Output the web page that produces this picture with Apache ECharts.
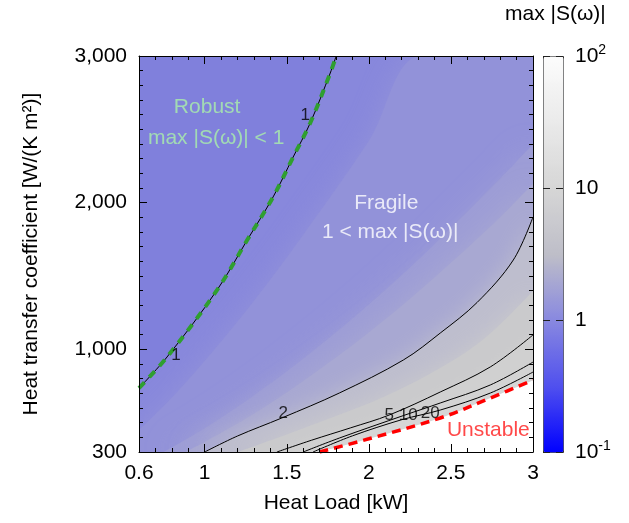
<!DOCTYPE html>
<html><head><meta charset="utf-8">
<script src="https://cdn.jsdelivr.net/npm/echarts@6/dist/echarts.min.js"></script>
<style>html,body{margin:0;padding:0;background:#fff}#c{width:629px;height:523px}</style>
</head><body><div id="c"></div>
<script>
// ---- axis ticks ----
const xTickLabels = [0.6, 1, 1.5, 2, 2.5, 3];
const xMajorTicks = [1, 1.5, 2, 2.5];
const yTickLabels = [300, 1000, 2000, 3000];
const yMajorTicks = [1000, 2000];
const cbTicks = [0.1, 1, 10, 100];

// ---- contour lines: [heat load kW, HTC W/(K m2)] ----
const contour1 = [[0.6,736],[0.771,948],[1.076,1405],[1.259,1745],[1.417,2039],[1.539,2311],[1.643,2543],[1.765,2884],[1.801,3000]];
const contour2 = [[1.0,300],[1.2,409],[1.47,532],[1.82,702],[2.21,927],[2.435,1111],[2.66,1320],[2.88,1609],[3.0,1902]];
const contour5 = [[1.44,300],[1.65,380],[1.887,464],[2.124,552],[2.435,709],[2.74,880],[3.0,1098]];
const contour10 = [[1.6,300],[1.82,395],[2.22,552],[2.435,634],[2.74,757],[3.0,913]];
const contour20 = [[1.66,300],[1.9,410],[2.2,520],[2.435,586],[2.74,702],[3.0,845]];
const unstableEdge = [[1.7,300],[2.0,390],[2.435,532],[2.74,668],[3.0,790]];
// estimated iso-lines (not drawn as lines) for the shading between labelled contours
const level125 = [[0.6,450],[0.8,670],[1.0,920],[1.3,1330],[1.6,1780],[2.0,2420],[2.32,3000]];
const level150 = [[0.75,300],[1.0,462],[1.3,685],[1.6,935],[2.0,1306],[2.4,1717],[2.8,2164],[3.0,2400]];
const level175 = [[0.88,300],[1.0,368],[1.3,560],[1.6,784],[2.0,1115],[2.4,1490],[2.8,1900],[3.0,2130]];
const level3 = [[1.2,300],[1.5,420],[1.8,545],[2.1,680],[2.4,850],[2.7,1070],[3.0,1400]];

// ---- text ----
const contourLabels = [[0.826,961,'1'],[1.612,2598,'1'],[1.478,566,'2'],[2.124,552,'5'],[2.24,552,'10'],[2.374,566,'20']];
const annotations = [[1.015,2652,'Robust','#aaf0aa'],[1.07,2441,'max |S(ω)| < 1','#aaf0aa'],[2.106,1998,'Fragile','#ffffff'],[2.13,1800,'1 < max |S(ω)|','#ffffff'],[2.728,450,'Unstable','#ff1a1a']];

// ---- styles ----
const FONT = 'Liberation Sans, Arial, Helvetica, sans-serif';
const X_MIN = 0.6, X_MAX = 3, Y_MIN = 300, Y_MAX = 3000;
const robustColor = 'rgb(128,128,220)';
const bandColors = ['rgb(136,136,220)','rgb(146,146,217)','rgb(157,157,214)','rgb(168,168,210)',
  'rgb(190,190,206)','rgb(202,202,204)','rgb(208,208,208)','rgb(211,211,211)','rgb(214,214,214)','#ffffff'];
const bandBlur = [0, 28, 28, 28, 22, 22, 10, 0, 0, 0];
const cmapColors = ['#0000ff','#5050ee','#8888e0','#bebec8','#d6d6d6','#eaeaea','#fcfcfc']; // log10 -1..2

const fillSets = [
  contour1.concat([[X_MAX, Y_MAX]]),
  level125.concat([[X_MAX, Y_MAX]]),
  level150, level175, contour2, level3, contour5, contour10, contour20, unstableEdge
];
const SMOOTH = 0.35;
const series = [];
fillSets.forEach((d, i) => {
  series.push({type:'line', data:d, smooth:SMOOTH, showSymbol:false, silent:true,
    lineStyle:{width:0, opacity:0},
    areaStyle:{color:bandColors[i], opacity:1, origin:'start', shadowBlur:bandBlur[i], shadowColor:bandColors[i]}, z:1});
});
function stroke(d, color, width, type, z) {
  return {type:'line', data:d, smooth:SMOOTH, showSymbol:false, silent:true,
    lineStyle:{color:color, width:width, type:type}, z:z};
}
series.push(stroke(contour1, '#000', 1, 'solid', 2));
series.push(stroke(contour1, '#2f9f2f', 4, [8,7], 3));
[contour2, contour5, contour10, contour20].forEach(d => series.push(stroke(d, '#000', 1, 'solid', 2)));
series.push(stroke(unstableEdge, '#ff0000', 3.5, [9,6], 3));
series.push({type:'scatter', data:contourLabels, symbolSize:0, silent:true, z:4,
  label:{show:true, position:'inside', formatter:p=>p.data[2], fontSize:17, color:'#000', fontFamily:FONT}});
series.push({type:'scatter', data:annotations.map(a=>({value:[a[0],a[1]], label:{color:a[3]}, txt:a[2]})),
  symbolSize:0, silent:true, z:4,
  label:{show:true, position:'inside', formatter:p=>p.data.txt, fontSize:21, fontFamily:FONT}});
series.push({type:'scatter', data:[], name:'cb'});
const cbSeriesIndex = series.length - 1;

const axisCommon = {type:'value', min:X_MIN, max:X_MAX, splitLine:{show:false}, z:10};
const tickStyle = {color:'#000', width:1};
const option = {
  animation:false,
  textStyle:{fontFamily:FONT},
  title:{text:'max |S(ω)|', left:505, top:4, padding:0,
    textStyle:{fontSize:21, fontWeight:'normal', color:'#000', fontFamily:FONT}},
  grid:[
    {left:139, top:56, width:394, height:396, show:true, backgroundColor:robustColor, borderWidth:0},
    {left:543, top:56, width:20, height:396}
  ],
  visualMap:{type:'continuous', min:-1, max:2, seriesIndex:cbSeriesIndex, orient:'vertical',
    left:543, top:56, itemWidth:20, itemHeight:396, padding:0, calculable:false, hoverLink:false,
    inRange:{color:cmapColors}, borderColor:'#333', borderWidth:1, z:4},
  xAxis:[
    Object.assign({}, axisCommon, {position:'bottom', axisLine:{show:true, onZero:false, lineStyle:{color:'#000', width:1}},
      axisTick:{show:true, inside:true, length:8, customValues:xMajorTicks, lineStyle:tickStyle},
      axisLabel:{customValues:xTickLabels, fontSize:21, color:'#000', margin:11, formatter:v=>String(v)},
      name:'Heat Load [kW]', nameLocation:'middle', nameGap:41, nameTextStyle:{fontSize:21, color:'#000'}}),
    Object.assign({}, axisCommon, {position:'bottom', interval:0.1, axisLine:{show:false},
      axisTick:{show:true, inside:true, length:4, lineStyle:tickStyle}, axisLabel:{show:false}}),
    Object.assign({}, axisCommon, {position:'top', axisLine:{show:true, onZero:false, lineStyle:{color:'#000', width:1}},
      axisTick:{show:true, inside:true, length:8, customValues:xMajorTicks, lineStyle:tickStyle}, axisLabel:{show:false}}),
    Object.assign({}, axisCommon, {position:'top', interval:0.1, axisLine:{show:false},
      axisTick:{show:true, inside:true, length:4, lineStyle:tickStyle}, axisLabel:{show:false}}),
    {gridIndex:1, type:'value', show:false, min:0, max:1}
  ],
  yAxis:[
    {type:'value', min:Y_MIN, max:Y_MAX, position:'left', z:10, splitLine:{show:false},
      axisLine:{show:true, onZero:false, lineStyle:{color:'#000', width:1}},
      axisTick:{show:true, inside:true, length:8, customValues:yMajorTicks, lineStyle:tickStyle},
      axisLabel:{customValues:yTickLabels, fontSize:21, color:'#000', margin:12, formatter:v=>v.toLocaleString('en-US')},
      name:'Heat transfer coefficient [W/(K m²)]', nameLocation:'middle', nameGap:97, nameTextStyle:{fontSize:21, color:'#000'}},
    {type:'value', min:Y_MIN, max:Y_MAX, interval:100, position:'left', z:10, splitLine:{show:false}, axisLine:{show:false},
      axisTick:{show:true, inside:true, length:4, lineStyle:tickStyle}, axisLabel:{show:false}},
    {type:'value', min:Y_MIN, max:Y_MAX, position:'right', z:10, splitLine:{show:false},
      axisLine:{show:true, onZero:false, lineStyle:{color:'#000', width:1}},
      axisTick:{show:true, inside:true, length:8, customValues:yMajorTicks, lineStyle:tickStyle}, axisLabel:{show:false}},
    {type:'value', min:Y_MIN, max:Y_MAX, interval:100, position:'right', z:10, splitLine:{show:false}, axisLine:{show:false},
      axisTick:{show:true, inside:true, length:4, lineStyle:tickStyle}, axisLabel:{show:false}},
    {gridIndex:1, type:'log', logBase:10, min:0.1, max:100, position:'right', z:10,
      axisLine:{show:false}, axisTick:{show:false},
      splitLine:{show:true, lineStyle:{color:'#222', width:1, type:[7,6]}},
      axisLabel:{margin:12, color:'#000', formatter:v=>{
        const e = Math.round(Math.log10(v));
        if (e === 2 || e === -1) return '{n|10}{s|' + e + '}';
        return '{n|' + (e === 1 ? '10' : '1') + '}';
      }, rich:{n:{fontSize:21, color:'#000', fontFamily:FONT}, s:{fontSize:14, color:'#000', fontFamily:FONT, verticalAlign:'bottom', padding:[0,0,12,0]}}}}
  ],
  series: series
};
const chart = echarts.init(document.getElementById('c'));
chart.setOption(option);
</script></body></html>
